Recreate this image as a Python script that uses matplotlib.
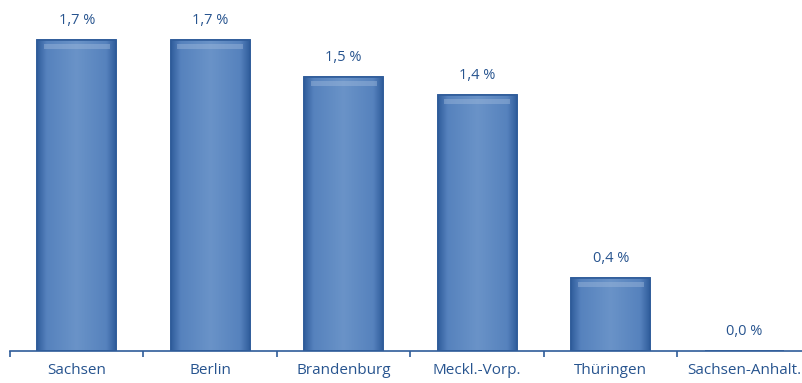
import matplotlib.pyplot as plt
import numpy as np
from matplotlib.colors import LinearSegmentedColormap

laender = ["Sachsen", "Berlin", "Brandenburg", "Meckl.-Vorp.", "Thüringen", "Sachsen-Anhalt."]
werte = [1.7, 1.7, 1.5, 1.4, 0.4, 0.0]
labels = ["1,7 %", "1,7 %", "1,5 %", "1,4 %", "0,4 %", "0,0 %"]

textfarbe = "#27548f"
kante = "#2f5c9a"
cmap = LinearSegmentedColormap.from_list(
    "balken", [(0, "#305d9c"), (0.12, "#5682bd"), (0.5, "#6a93c8"),
               (0.88, "#5682bd"), (1, "#305d9c")])

fig = plt.figure(figsize=(8.03, 3.83), dpi=100)
ax = fig.add_axes([10 / 803, 32 / 383, 801 / 803, 340 / 383])

x = np.arange(len(laender))
bars = ax.bar(x, werte, width=0.59, color="#5f8cc4", edgecolor=kante,
              linewidth=1.2, zorder=2)

# horizontaler Verlauf in jedem Balken
grad = np.linspace(0, 1, 256).reshape(1, -1)
for b in bars:
    h = b.get_height()
    if h <= 0:
        continue
    x0 = b.get_x()
    w = b.get_width()
    im = ax.imshow(grad, cmap=cmap, aspect="auto", extent=[x0, x0 + w, 0, h],
                   zorder=2.5, interpolation="bicubic")
    im.set_clip_path(b)
    # heller Streifen oben
    ax.fill_between([x0 + w * 0.08, x0 + w * 0.92], h - 0.05, h - 0.025,
                    color="#9db8dc", alpha=0.45, lw=0, zorder=3)
    ax.bar(x0 + w / 2, h, width=w, fill=False, edgecolor=kante,
           linewidth=1.2, zorder=4)

for xi, v, t in zip(x, werte, labels):
    ax.text(xi, v + 0.065, t, ha="center", va="bottom", fontsize=10.5,
            color=textfarbe, family="Open Sans")

ax.set_xlim(-0.5, len(laender) - 0.5)
ax.set_ylim(0, 340 / 183)
ax.set_xticks(x)
ax.set_xticklabels(laender, fontsize=11, color=textfarbe, family="Open Sans")
ax.set_xticks(np.arange(len(laender)) - 0.5, minor=True)
ax.tick_params(axis="x", which="major", length=0, pad=9)
ax.tick_params(axis="x", which="minor", length=4, width=1.2, color=kante,
               direction="out")
ax.set_yticks([])
for s in ["top", "right", "left"]:
    ax.spines[s].set_visible(False)
ax.spines["bottom"].set_color(kante)
ax.spines["bottom"].set_linewidth(1.2)

fig.savefig("out.png", dpi=100)
